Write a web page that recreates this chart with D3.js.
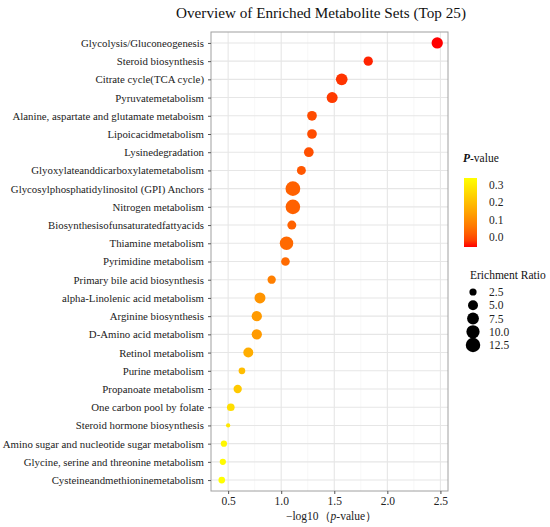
<!DOCTYPE html>
<html><head><meta charset="utf-8">
<script src="https://cdn.jsdelivr.net/npm/d3@7"></script>
<style>body{margin:0;background:#fff}svg{display:block}</style>
</head><body><svg id="c" width="550" height="527"></svg>
<script>
const categories = [
  "Glycolysis/Gluconeogenesis",
  "Steroid biosynthesis",
  "Citrate cycle(TCA cycle)",
  "Pyruvatemetabolism",
  "Alanine, aspartate and glutamate metaboism",
  "Lipoicacidmetabolism",
  "Lysinedegradation",
  "Glyoxylateanddicarboxylatemetabolism",
  "Glycosylphosphatidylinositol (GPI) Anchors",
  "Nitrogen metabolism",
  "Biosynthesisofunsaturatedfattyacids",
  "Thiamine metabolism",
  "Pyrimidine metabolism",
  "Primary bile acid biosynthesis",
  "alpha-Linolenic acid metabolism",
  "Arginine biosynthesis",
  "D-Amino acid metabolism",
  "Retinol metabolism",
  "Purine metabolism",
  "Propanoate metabolism",
  "One carbon pool by folate",
  "Steroid hormone biosynthesis",
  "Amino sugar and nucleotide sugar metabolism",
  "Glycine, serine and threonine metabolism",
  "Cysteineandmethioninemetabolism"
];
const negLog10P = [2.47, 1.82, 1.57, 1.48, 1.29, 1.29, 1.26, 1.19, 1.11, 1.11, 1.10, 1.05, 1.04, 0.91, 0.80, 0.77, 0.77, 0.69, 0.63, 0.59, 0.525, 0.50, 0.46, 0.45, 0.44];
const enrichRatio = [6.8, 4.2, 7.4, 6.3, 4.7, 4.7, 4.7, 3.9, 13.0, 12.8, 3.9, 10.5, 3.6, 3.3, 6.3, 5.4, 5.4, 5.0, 2.2, 3.3, 2.8, 1.6, 2.0, 2.0, 2.2];
const xTicks = [0.5, 1.0, 1.5, 2.0, 2.5];
const xMinor = [0.75, 1.25, 1.75, 2.25];
const pTicks = [0.0, 0.1, 0.2, 0.3];
const sizeTicks = [2.5, 5.0, 7.5, 10.0, 12.5];

const serif = "'Liberation Serif','Times New Roman',serif";
const svg = d3.select("#c");
const L = 211, R = 448, T = 32, B = 491;

const pvals = negLog10P.map(v => Math.pow(10, -v));
const data = categories.map((c, i) => ({c, x: negLog10P[i], p: pvals[i], r: enrichRatio[i]}));

const xr = d3.extent(negLog10P), xpad = (xr[1] - xr[0]) * 0.05;
const x = d3.scaleLinear().domain([xr[0] - xpad, xr[1] + xpad]).range([L, R]);
const y = d3.scalePoint().domain(categories).range([T, B]).padding(0.6);
const color = d3.scaleLinear().domain(d3.extent(pvals)).range(["#FF0000", "#FFFF00"]).interpolate(d3.interpolateLab);
const norm = d3.scaleLinear().domain(d3.extent(enrichRatio)).range([0, 1]).clamp(true);
const rLin = d3.scaleLinear().domain([0, 1]).range([2.15, 7.35]);
const rad = v => rLin(Math.sqrt(norm(v)));

// gridlines
const g = svg.append("g");
g.selectAll(".mn").data(xMinor).join("line")
  .attr("x1", d => x(d)).attr("x2", d => x(d)).attr("y1", T).attr("y2", B)
  .attr("stroke", "#F2F2F2").attr("stroke-width", 0.6);
g.selectAll(".mj").data(xTicks).join("line")
  .attr("x1", d => x(d)).attr("x2", d => x(d)).attr("y1", T).attr("y2", B)
  .attr("stroke", "#E6E6E6").attr("stroke-width", 1.1);
g.selectAll(".hy").data(categories).join("line")
  .attr("x1", L).attr("x2", R).attr("y1", d => y(d)).attr("y2", d => y(d))
  .attr("stroke", "#E6E6E6").attr("stroke-width", 1.1);

// points
svg.append("g").selectAll("circle").data(data).join("circle")
  .attr("cx", d => x(d.x)).attr("cy", d => y(d.c)).attr("r", d => rad(d.r))
  .attr("fill", d => color(d.p));

// border
svg.append("rect").attr("x", L).attr("y", T).attr("width", R - L).attr("height", B - T)
  .attr("fill", "none").attr("stroke", "#A0A0A0").attr("stroke-width", 1);

// axes
const yAx = svg.append("g").attr("transform", `translate(${L},0)`)
  .call(d3.axisLeft(y).tickSize(3).tickPadding(4));
const xAx = svg.append("g").attr("transform", `translate(0,${B})`)
  .call(d3.axisBottom(x).tickValues(xTicks).tickFormat(d3.format(".1f")).tickSize(3).tickPadding(3));
[yAx, xAx].forEach(a => {
  a.select(".domain").remove();
  a.selectAll(".tick line").attr("stroke", "#555");
  a.selectAll("text").attr("font-family", serif).attr("fill", "#222");
});
yAx.selectAll("text").attr("font-size", "10.8px");
xAx.selectAll("text").attr("font-size", "11.5px");

// title
svg.append("text").attr("x", 321).attr("y", 18).attr("text-anchor", "middle")
  .attr("font-family", serif).attr("font-size", "15.2px").attr("fill", "#111")
  .text("Overview of Enriched Metabolite Sets (Top 25)");

// x label
const xl = svg.append("text").attr("x", (L + R) / 2 + 2).attr("y", 520).attr("text-anchor", "middle")
  .attr("font-family", serif).attr("font-size", "11.5px").attr("fill", "#222");
xl.append("tspan").text("\u2212log10\uFF08");
xl.append("tspan").attr("font-style", "italic").text("p");
xl.append("tspan").text("-value\uFF09");

// color legend
const lg = svg.append("g");
const t1 = lg.append("text").attr("x", 463).attr("y", 162).attr("font-family", serif)
  .attr("font-size", "11.5px").attr("fill", "#111");
t1.append("tspan").attr("font-style", "italic").attr("font-weight", "bold").text("P");
t1.append("tspan").text("-value");
const defs = svg.append("defs");
const grad = defs.append("linearGradient").attr("id", "gr").attr("x1", 0).attr("x2", 0).attr("y1", 1).attr("y2", 0);
d3.range(0, 1.0001, 0.1).forEach(t => {
  grad.append("stop").attr("offset", t).attr("stop-color", d3.interpolateLab("#FF0000", "#FFFF00")(t));
});
lg.append("rect").attr("x", 464).attr("y", 178).attr("width", 13).attr("height", 69).attr("fill", "url(#gr)");
const pLeg = d3.scaleLinear().domain([0, 0.3]).range([237, 185]);
lg.selectAll(".pl").data(pTicks).join("text")
  .attr("x", 489).attr("y", d => pLeg(d)).attr("dy", "0.35em")
  .attr("font-family", serif).attr("font-size", "11.5px").attr("fill", "#222")
  .text(d => d3.format(".1f")(d));

// size legend
lg.append("text").attr("x", 470).attr("y", 279).attr("font-family", serif)
  .attr("font-size", "11.5px").attr("fill", "#111").text("Erichment Ratio");
const sLeg = d3.scalePoint().domain(sizeTicks).range([292, 345]);
lg.selectAll(".sc").data(sizeTicks).join("circle")
  .attr("cx", 473).attr("cy", d => sLeg(d)).attr("r", d => rad(d)).attr("fill", "#000");
lg.selectAll(".sl").data(sizeTicks).join("text")
  .attr("x", 489).attr("y", d => sLeg(d)).attr("dy", "0.35em")
  .attr("font-family", serif).attr("font-size", "11.5px").attr("fill", "#222")
  .text(d => d3.format(".1f")(d));
</script></body></html>
